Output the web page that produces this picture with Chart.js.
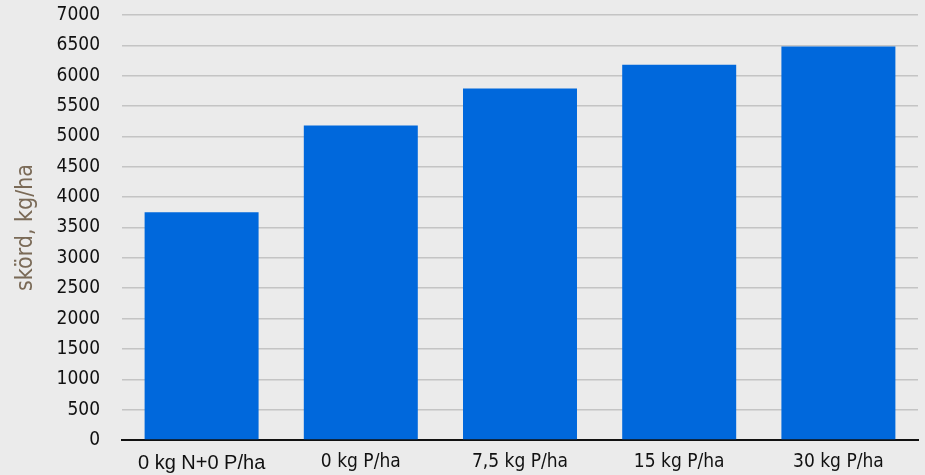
<!DOCTYPE html>
<html>
<head>
<meta charset="utf-8">
<script src="https://cdn.jsdelivr.net/npm/chart.js@4"></script>
<style>
  html, body { margin: 0; padding: 0; background: #ebebeb; }
  #wrap { width: 925px; height: 475px; position: relative; }
</style>
</head>
<body>
<div id="wrap"><canvas id="c" width="925" height="475"></canvas></div>
<script>
// Yield per phosphorus treatment
const categories = ['0 kg N+0 P/ha', '0 kg P/ha', '7,5 kg P/ha', '15 kg P/ha', '30 kg P/ha'];
const yieldValues = [3750, 5180, 5790, 6180, 6480];
const yTicks = [0, 500, 1000, 1500, 2000, 2500, 3000, 3500, 4000, 4500, 5000, 5500, 6000, 6500, 7000];

// condensed width is requested through the font shorthand (font-stretch keyword)
const narrowFamily = '"DejaVu Sans", sans-serif';
const regularFamily = '"Liberation Sans", Arial, sans-serif';

new Chart(document.getElementById('c'), {
  type: 'bar',
  data: {
    labels: categories,
    datasets: [{
      data: yieldValues,
      backgroundColor: '#0068dc',
      borderWidth: 0,
      categoryPercentage: 0.716,
      barPercentage: 1.0
    }]
  },
  options: {
    responsive: false,
    animation: false,
    layout: { padding: { top: 0, right: 7, left: 0, bottom: 0 } },
    plugins: { legend: { display: false }, tooltip: { enabled: false } },
    scales: {
      x: {
        grid: { display: false, drawTicks: false },
        border: { display: true, color: '#111111', width: 2 },
        afterFit: (axis) => { axis.height = 35; },
        ticks: {
          color: '#111111',
          padding: 11,
          font: (ctx) => ctx.index === 0
            ? { family: regularFamily, size: 20 }
            : { family: narrowFamily, size: 19, style: 'normal', weight: 'condensed' }
        }
      },
      y: {
        min: 0,
        max: 7000,
        afterBuildTicks: (axis) => { axis.ticks = yTicks.map(v => ({ value: v })); },
        afterFit: (axis) => {
          axis.width = 122;
          axis.paddingTop = 15;
          axis.paddingBottom = 0;
        },
        grid: { color: '#c4c4c4', lineWidth: 1.5, drawTicks: false },
        border: { display: false },
        ticks: {
          color: '#111111',
          padding: 22,
          callback: (v) => String(v),
          font: { family: narrowFamily, size: 19, style: 'normal', weight: 'condensed' }
        },
        title: {
          display: true,
          text: 'skörd, kg/ha',
          color: '#7a6a57',
          font: { family: narrowFamily, size: 23, style: 'normal', weight: 'condensed' },
          padding: { top: 12, bottom: 0 }
        }
      }
    }
  }
});
</script>
</body>
</html>
